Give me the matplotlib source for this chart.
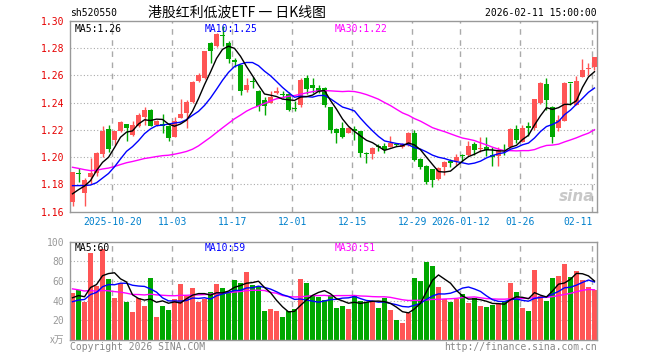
import numpy as np
import pandas as pd
import matplotlib
matplotlib.use("Agg")
import matplotlib.pyplot as plt

# --- daily candles (2025-10-09 .. 2026-02-11) ---
opens = [1.167, 1.1875, 1.1735, 1.185, 1.188, 1.202, 1.2207, 1.2126, 1.2192, 1.2244,
         1.2163, 1.2229, 1.2298, 1.2347, 1.2237, 1.2241, 1.2232, 1.2151, 1.2290, 1.2322,
         1.2408, 1.2562, 1.2580, 1.2837, 1.2818, 1.2893, 1.2840, 1.2710, 1.2673, 1.2494,
         1.2560, 1.2487, 1.2420, 1.2400, 1.2470, 1.2460, 1.2462, 1.2356, 1.2383, 1.2580,
         1.2531, 1.2506, 1.2506, 1.2366, 1.2207, 1.2217, 1.2180, 1.2205, 1.2192, 1.2025,
         1.2023, 1.2080, 1.2082, 1.2077, 1.2092, 1.2077, 1.2090, 1.2180, 1.1987, 1.1936,
         1.1911, 1.1840, 1.1924, 1.1965, 1.1968, 1.2015, 1.2017, 1.2097, 1.2058, 1.2077,
         1.2014, 1.2005, 1.2050, 1.2073, 1.2207, 1.2114, 1.2229, 1.2212, 1.2400, 1.2538,
         1.2366, 1.2217, 1.2268, 1.2545, 1.2383, 1.2592, 1.2650, 1.2665]
highs = [1.189, 1.192, 1.1845, 1.1996, 1.204, 1.223, 1.2237, 1.2195, 1.2262, 1.2246,
         1.2268, 1.2327, 1.2366, 1.2350, 1.2275, 1.2317, 1.2235, 1.2293, 1.2428, 1.2420,
         1.2560, 1.2616, 1.2782, 1.2849, 1.2912, 1.2960, 1.2855, 1.2725, 1.2680, 1.2580,
         1.2590, 1.2495, 1.2445, 1.2482, 1.2518, 1.2485, 1.2475, 1.2410, 1.2580, 1.2604,
         1.2580, 1.2530, 1.2518, 1.2370, 1.2212, 1.2256, 1.2220, 1.2225, 1.2195, 1.2035,
         1.2077, 1.2095, 1.2100, 1.2156, 1.2100, 1.2105, 1.2185, 1.2199, 1.1992, 1.1940,
         1.1915, 1.1925, 1.1970, 1.1985, 1.2024, 1.2024, 1.2119, 1.2114, 1.2146, 1.2146,
         1.2075, 1.2075, 1.2097, 1.2217, 1.2237, 1.2237, 1.2261, 1.2427, 1.2555, 1.2580,
         1.2373, 1.2310, 1.2555, 1.2545, 1.2599, 1.2719, 1.2694, 1.2738]
lows = [1.164, 1.182, 1.1637, 1.180, 1.186, 1.200, 1.204, 1.209, 1.2185, 1.212,
        1.2155, 1.2219, 1.2237, 1.2225, 1.2230, 1.2180, 1.2121, 1.2145, 1.2285, 1.2212,
        1.2400, 1.2555, 1.2572, 1.2690, 1.2812, 1.2818, 1.2691, 1.2660, 1.2458, 1.2475,
        1.2505, 1.2335, 1.2310, 1.2395, 1.2460, 1.2435, 1.2335, 1.2340, 1.2370, 1.2465,
        1.2470, 1.2470, 1.2366, 1.2175, 1.2102, 1.2140, 1.2175, 1.2127, 1.2000, 1.1955,
        1.1988, 1.2045, 1.2030, 1.2072, 1.2080, 1.2065, 1.2085, 1.1973, 1.1915, 1.1804,
        1.1779, 1.1828, 1.1870, 1.1924, 1.1939, 1.1963, 1.2005, 1.2017, 1.2034, 1.2005,
        1.1936, 1.1936, 1.2017, 1.2065, 1.2102, 1.2108, 1.2156, 1.2199, 1.2390, 1.2347,
        1.2107, 1.2188, 1.2265, 1.2381, 1.2380, 1.2585, 1.2604, 1.2641]
closes = [1.189, 1.1872, 1.1833, 1.188, 1.203, 1.219, 1.2058, 1.2192, 1.2259, 1.2217,
          1.2237, 1.2310, 1.2347, 1.2232, 1.2268, 1.2226, 1.2139, 1.2268, 1.2315, 1.2408,
          1.2555, 1.2604, 1.2780, 1.2780, 1.2905, 1.2889, 1.2720, 1.2700, 1.2489, 1.2531,
          1.2550, 1.2372, 1.2376, 1.2445, 1.2482, 1.2455, 1.2347, 1.2352, 1.2567, 1.2499,
          1.2511, 1.2487, 1.2383, 1.2199, 1.2180, 1.2151, 1.2217, 1.2195, 1.2033, 1.2020,
          1.2065, 1.2075, 1.2053, 1.2102, 1.2088, 1.2095, 1.2180, 1.1980, 1.1926, 1.1814,
          1.1828, 1.1919, 1.1963, 1.1960, 1.2000, 1.2010, 1.2083, 1.2053, 1.2070, 1.2053,
          1.2000, 1.2053, 1.2046, 1.2207, 1.2126, 1.2212, 1.2210, 1.2424, 1.2547, 1.2420,
          1.2151, 1.2273, 1.2547, 1.2542, 1.2560, 1.2641, 1.2656, 1.2738]
volumes = [48, 51, 39, 89, 55, 93, 62, 43, 58, 39,
           28, 43, 35, 63, 23, 35, 31, 42, 57, 45,
           53, 39, 42, 49, 57, 53, 48, 61, 58, 69,
           56, 55, 29, 32, 30, 23, 29, 32, 62, 58,
           46, 44, 41, 46, 33, 35, 32, 46, 40, 39,
           40, 33, 43, 31, 20, 17, 27, 63, 60, 79,
           75, 54, 42, 39, 42, 47, 38, 43, 35, 34,
           36, 37, 40, 58, 49, 33, 30, 71, 45, 40,
           63, 65, 77, 64, 70, 61, 54, 51]

# estimated sessions before the window (only feed the moving averages on the left edge)
prior_closes = [1.212, 1.211, 1.210, 1.195, 1.190, 1.186, 1.184, 1.183, 1.182, 1.196,
                1.199, 1.201, 1.203, 1.204, 1.203, 1.204, 1.204, 1.204, 1.208, 1.206,
                1.187, 1.183, 1.184, 1.186, 1.185, 1.172, 1.170, 1.168, 1.166]
prior_volumes = [80, 75, 70, 85, 65, 72, 68, 75, 70, 67,
                 45, 48, 40, 44, 47, 42, 46, 43, 45, 43,
                 35, 33, 38, 34, 35, 40, 45, 42, 40]

tick_index = [7, 17, 27, 37, 47, 57, 65, 75, 87]
tick_labels = ["2025-10-20", "11-03", "11-17", "12-01", "12-15",
               "12-29", "2026-01-12", "01-26", "02-11"]
price_ticks = [1.16, 1.18, 1.20, 1.22, 1.24, 1.26, 1.28, 1.30]
vol_ticks = [20, 40, 60, 80, 100]

RED = "#ff5555"
GREEN = "#00a800"
FRAME = "#999999"
MONO = "DejaVu Sans Mono"

W, H = 660, 360
fig = plt.figure(figsize=(6.6, 3.6), dpi=100)


def px_axes(left, top, right, bottom):
    return fig.add_axes([left / W, 1 - bottom / H, (right - left) / W, (bottom - top) / H])


def ftext(x, y, s, **kw):
    fig.text(x / W, 1 - y / H, s, **kw)


def moving_avgs(prior, values):
    s = pd.Series(list(prior) + list(values))
    n = len(prior)
    return [s.rolling(k).mean().iloc[n:].values for k in (5, 10, 30)]


x = np.arange(len(closes))
o = np.array(opens)
c = np.array(closes)
colors = np.where(c >= o, RED, GREEN)

ax = px_axes(70, 21, 597, 211.5)
axv = px_axes(70, 241.7, 597, 340)

for a in (ax, axv):
    a.set_xlim(-0.42, len(closes) - 0.58)
    for sp in a.spines.values():
        sp.set_color(FRAME)
        sp.set_linewidth(1)
    for t in tick_index:
        a.axvline(t - 0.35, color="#aaaaaa", lw=1, ls=(0, (4, 4)), zorder=0)
    a.tick_params(length=0)

# price panel
ax.set_ylim(1.16, 1.30)
for p in price_ticks[1:-1]:
    ax.axhline(p, color="#aaaaaa", lw=0.8, ls=(0, (1, 2)), zorder=0)
ax.vlines(x, lows, highs, colors=colors, lw=1, zorder=2)
body_lo = np.minimum(o, c)
body_h = np.maximum(np.abs(c - o), 0.0008)
ax.bar(x, body_h, bottom=body_lo, width=0.8, color=colors, linewidth=0, zorder=3)

ma5, ma10, ma30 = moving_avgs(prior_closes, closes)
ax.plot(x, ma30, color="#ff00ff", lw=1, zorder=4)
ax.plot(x, ma10, color="#0000ff", lw=1, zorder=4)
ax.plot(x, ma5, color="black", lw=1, zorder=4)

ax.set_yticks(price_ticks)
ax.set_yticklabels([f"{p:.2f}" for p in price_ticks], color="#e60000",
                   fontsize=7, family=MONO)
ax.tick_params(axis="y", pad=4)
ax.set_xticks(np.array(tick_index) - 0.35)
ax.set_xticklabels(tick_labels, color="#0080cc", fontsize=7, family=MONO)
ax.tick_params(axis="x", pad=4)
ax.get_xticklabels()[-1].set_ha("right")

ax.text(0.008, 0.985, f"MA5:{ma5[-1]:.2f}", transform=ax.transAxes, va="top",
        fontsize=7, family=MONO, color="black")
ax.text(0.255, 0.985, f"MA10:{ma10[-1]:.2f}", transform=ax.transAxes, va="top",
        fontsize=7, family=MONO, color="#0000ff")
ax.text(0.502, 0.985, f"MA30:{ma30[-1]:.2f}", transform=ax.transAxes, va="top",
        fontsize=7, family=MONO, color="#ff00ff")
ax.text(0.995, 0.04, "sina", transform=ax.transAxes, ha="right", va="bottom",
        fontsize=11, fontweight="bold", style="italic", color="#c8c8c8")

# volume panel
axv.set_ylim(0, 100)
for v in vol_ticks[:-1]:
    axv.axhline(v, color="#aaaaaa", lw=0.8, ls=(0, (1, 2)), zorder=0)
axv.bar(x, volumes, width=0.8, color=colors, linewidth=0, zorder=2)
vma5, vma10, vma30 = moving_avgs(prior_volumes, volumes)
axv.plot(x, vma30, color="#ff00ff", lw=1, zorder=3)
axv.plot(x, vma10, color="#0000ff", lw=1, zorder=3)
axv.plot(x, vma5, color="black", lw=1, zorder=3)
axv.set_yticks(vol_ticks)
axv.set_yticklabels([str(v) for v in vol_ticks], color="#999999", fontsize=7, family=MONO)
axv.tick_params(axis="y", pad=4)
axv.set_xticks([])

axv.text(0.008, 0.985, f"MA5:{vma5[-1]:.0f}", transform=axv.transAxes, va="top",
         fontsize=7, family=MONO, color="black")
axv.text(0.255, 0.985, f"MA10:{vma10[-1]:.0f}", transform=axv.transAxes, va="top",
         fontsize=7, family=MONO, color="#0000ff")
axv.text(0.502, 0.985, f"MA30:{vma30[-1]:.0f}", transform=axv.transAxes, va="top",
         fontsize=7, family=MONO, color="#ff00ff")

# header / footer texts
ftext(70, 13, "sh520550", fontsize=7, family=MONO, va="center", color="black")
ftext(237, 12.5, "港股红利低波ETF 一 日K线图", fontsize=10, ha="center", va="center",
      family=["Noto Sans CJK SC", "DejaVu Sans"], color="black")
ftext(597, 12.5, "2026-02-11 15:00:00", fontsize=7, family=MONO, ha="right",
      va="center", color="black")
ftext(64, 340, "x万", fontsize=7, ha="right", va="center", color="#999999",
      family=["Noto Sans CJK SC", "DejaVu Sans"], style="italic")
ftext(70, 346.5, "Copyright 2026 SINA.COM", fontsize=7, family=MONO, va="center",
      color="#888888")
ftext(597, 346.5, "http://finance.sina.com.cn", fontsize=7, family=MONO, ha="right",
      va="center", color="#888888")

fig.savefig("out.png", dpi=100, facecolor="white")
